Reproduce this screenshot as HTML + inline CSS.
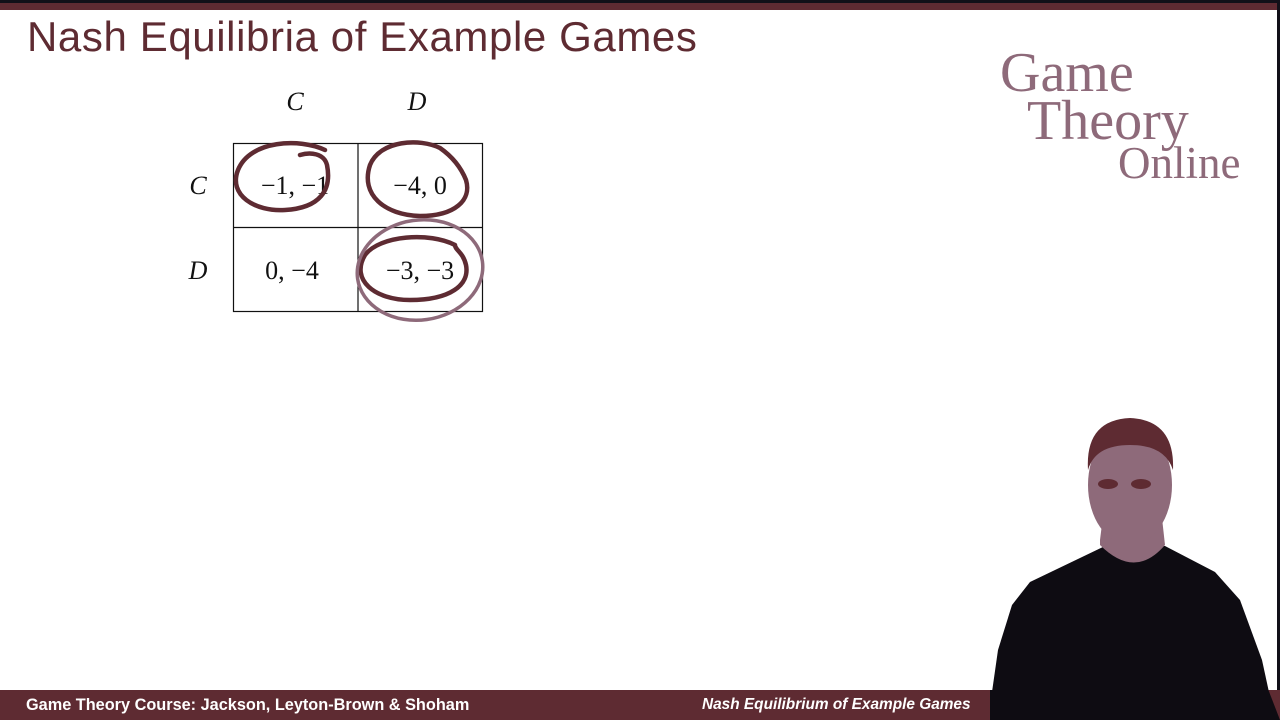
<!DOCTYPE html>
<html><head><meta charset="utf-8"><style>
html,body{margin:0;padding:0}
body{width:1280px;height:720px;position:relative;overflow:hidden;background:#fff;font-family:"Liberation Sans",sans-serif}
.t{position:absolute;white-space:nowrap}
</style></head><body>
<div style="position:absolute;left:0;top:0;width:1280px;height:3px;background:#111018"></div>
<div style="position:absolute;left:0;top:3px;width:1280px;height:7px;background:#5e2b32"></div>
<div class="t" style="left:27px;top:13px;font-size:42px;color:#5e2b32;letter-spacing:0.6px">Nash Equilibria of Example Games</div>

<svg width="1280" height="720" style="position:absolute;left:0;top:0">
<g font-family="Liberation Serif,serif" font-size="26" fill="#111">
<text x="295" y="110" text-anchor="middle" font-style="italic">C</text>
<text x="417" y="110" text-anchor="middle" font-style="italic">D</text>
<text x="198" y="194" text-anchor="middle" font-style="italic">C</text>
<text x="198" y="279" text-anchor="middle" font-style="italic">D</text>
<text x="295" y="194" text-anchor="middle">−1, −1</text>
<text x="420" y="194" text-anchor="middle">−4, 0</text>
<text x="292" y="279" text-anchor="middle">0, −4</text>
<text x="420" y="279" text-anchor="middle">−3, −3</text>
</g>
<g stroke="#111" stroke-width="1.2" fill="none">
<rect x="233.5" y="143.5" width="249" height="168"/>
<line x1="358" y1="143" x2="358" y2="311"/>
<line x1="233" y1="227.5" x2="483" y2="227.5"/>
</g>
<g fill="none" stroke="#5e2b32" stroke-width="4.5" stroke-linecap="round">
<path d="M325,150 C300,138 250,140 238,170 C228,195 255,212 285,210 C320,208 332,190 327,165 C324,153 310,152 300,155"/>
<path d="M440,148 C420,138 380,140 370,165 C360,195 385,215 420,216 C455,216 472,200 466,180 C460,165 450,155 440,148"/>
<path d="M455,245 C430,232 380,235 365,255 C350,280 375,300 410,300 C450,300 470,285 466,265 C463,252 455,250 455,245"/>
</g>
<ellipse cx="420" cy="270" rx="63" ry="50" fill="none" stroke="#8e6a7a" stroke-width="3.5" transform="rotate(-8 420 270)"/>

<g font-family="Liberation Serif,serif" fill="#8e6a7a">
<text x="1000" y="91" font-size="56">Game</text>
<text x="1027" y="139" font-size="56">Theory</text>
<text x="1118" y="178" font-size="45">Online</text>
</g>

<path d="M988,720 L998,650 L1012,605 L1030,582 L1080,558 L1105,546 L1165,546 L1215,572 L1240,600 L1262,660 L1275,720 Z" fill="#0e0c12"/>
<path d="M1100,540 L1105,500 L1160,500 L1165,545 Q1135,580 1100,545 Z" fill="#8e6a7a"/>
<ellipse cx="1130" cy="485" rx="42" ry="60" fill="#8e6a7a"/>
<path d="M1088,470 Q1085,420 1130,418 Q1175,420 1173,470 Q1165,445 1130,445 Q1095,445 1088,470Z" fill="#5e2b32"/>
<ellipse cx="1108" cy="484" rx="10" ry="5" fill="#5e2b32"/>
<ellipse cx="1141" cy="484" rx="10" ry="5" fill="#5e2b32"/>
<rect x="1277" y="0" width="3" height="720" fill="#111018"/>
</svg>

<div style="position:absolute;left:0;top:690px;width:1280px;height:30px;background:#5e2b32"></div>
<div style="position:absolute;left:990px;top:690px;width:290px;height:30px;background:#0e0c12;clip-path:polygon(0 0,96% 0,100% 100%,0 100%)"></div>
<div class="t" style="left:26px;top:696px;font-size:16.3px;font-weight:bold;color:#fff">Game Theory Course: Jackson, Leyton-Brown &amp; Shoham</div>
<div class="t" style="left:702px;top:696px;font-size:15.4px;font-weight:bold;font-style:italic;color:#fff">Nash Equilibrium of Example Games</div>
</body></html>
